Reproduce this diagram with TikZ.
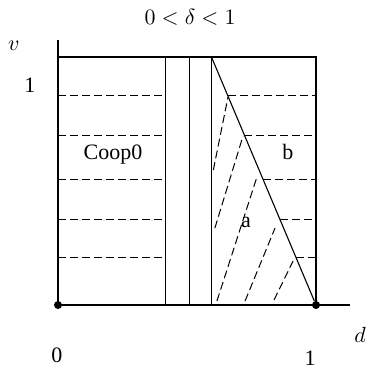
\documentclass[tikz,border=0pt]{standalone}
\usepackage{amsmath, amssymb}
\usepackage{fontspec}
\setmainfont{Liberation Serif}
\usepackage{tikz}
\usetikzlibrary{calc, positioning}
\tikzset{>=latex}
\tikzset{font=\fontsize{11}{13}\selectfont}
\tikzset{hatch/.style={dash pattern=on 4pt off 2pt, line width=0.5pt}}
\tikzset{edge/.style={line width=0.55pt}}
\tikzset{endpt/.style={circle, fill=black, inner sep=0pt, minimum size=4pt}}

\begin{document}
\begin{tikzpicture}[x=129pt, y=124pt]
  \useasboundingbox (-0.2248, -0.2782) rectangle (1.1977, 1.2298); %
  % axes
  \draw[edge] (0, 0) -- (0, 1.069); %
  \draw[edge] (0, 0) -- (1.132, 0); %
  \node[endpt] (o) at (0, 0) {}; %
  \node[endpt] (e) at (1, 0) {}; %
  % frame and strips
  \draw[edge] (0, 1) -- (1, 1) -- (1, 0); %
  \draw[edge] (0.415, 0) -- (0.415, 1); %
  \draw[edge] (0.508, 0) -- (0.508, 1); %
  \draw[edge] (0.5948, 0) -- (0.5948, 1); %
  \coordinate (top) at (0.5948, 1); %
  \draw[edge] (top) -- (e); %
  % horizontal dashes, left and right
  \foreach \y in {0.843, 0.685, 0.506, 0.343, 0.19}{
    \draw[hatch] (0, \y) -- (0.403, \y); %
    \draw[hatch] ({1-0.405*\y}, \y) -- (1, \y); %
  }
  % slanted dashes under the line
  \draw[hatch] (0.602, 0.544) -- (0.659, 0.839); %
  \draw[hatch] (0.608, 0.310) -- (0.717, 0.681); %
  \draw[hatch] (0.616, 0.016) -- (0.771, 0.516); %
  \draw[hatch] (0.725, 0.016) -- (0.841, 0.310); %
  \draw[hatch] (0.837, 0.020) -- (0.911, 0.177); %
  % labels
  \node (title) at (0.512, 1.161) {$0<\delta<1$}; %
  \node (vlab) at (-0.171, 1.044) {$v$}; %
  \node (vone) at (-0.109, 0.887) {1}; %
  \node (dlab) at (1.171, -0.121) {$d$}; %
  \node (dzero) at (-0.004, -0.202) {0}; %
  \node (done) at (0.977, -0.214) {1}; %
  \node (coop) at (0.213, 0.605) {Coop0}; %
  \node (blab) at (0.891, 0.617) {b}; %
  \node (alab) at (0.729, 0.331) {a}; %
\end{tikzpicture}
\end{document}
